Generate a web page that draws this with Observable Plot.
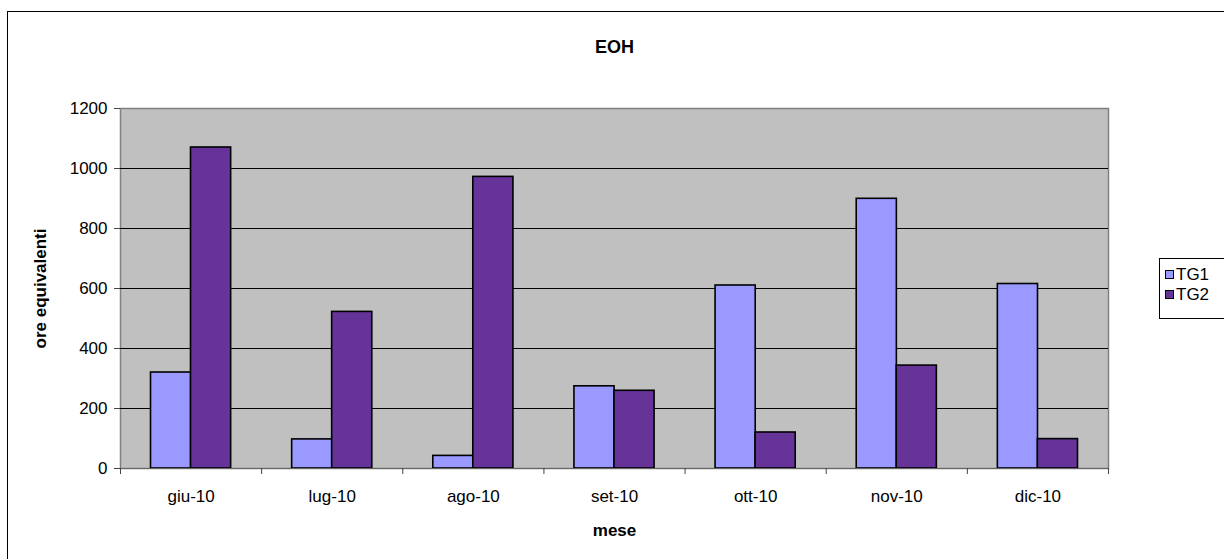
<!DOCTYPE html>
<html>
<head>
<meta charset="utf-8">
<script src="https://cdn.jsdelivr.net/npm/d3@7"></script>
<script src="https://cdn.jsdelivr.net/npm/@observablehq/plot@0.6"></script>
<style>
  body { margin: 0; background: #fff; }
  #wrap { position: relative; width: 1224px; height: 559px; overflow: hidden; font-family: "Liberation Sans", Arial, sans-serif; }
  #border { position: absolute; left: 7px; top: 11px; width: 1300px; height: 700px; border: 1.5px solid #000; pointer-events: none; }
  #legend { position: absolute; left: 1159px; top: 258px; width: 80px; height: 59px; border: 1px solid #000; background: #fff; }
  .item { position: absolute; left: 5px; font-size: 17px; line-height: 19px; color: #000; }
  .sw { display: inline-block; width: 7px; height: 7px; border: 1.5px solid #000; margin-right: 2px; vertical-align: 1px; }
  svg { font-family: "Liberation Sans", Arial, sans-serif; }
</style>
</head>
<body>
<div id="wrap">
  <div id="chart"></div>
  <div id="border"></div>
  <div id="legend"></div>
</div>
<script>
const months = ["giu-10", "lug-10", "ago-10", "set-10", "ott-10", "nov-10", "dic-10"];
const tg1 = [320, 97, 42, 274, 610, 899, 615];
const tg2 = [1070, 522, 972, 259, 120, 343, 98];
const seriesNames = ["TG1", "TG2"];
const seriesColors = ["#9999ff", "#663399"];
const yTicks = [0, 200, 400, 600, 800, 1000, 1200];
const gridTicks = [200, 400, 600, 800, 1000];

const title = "EOH";
const xLabel = "mese";
const yLabel = "ore equivalenti";

const rows1 = months.map((m, i) => ({month: m, value: tg1[i]}));
const rows2 = months.map((m, i) => ({month: m, value: tg2[i]}));

const W = 1224, H = 559;
const mL = 120, mR = 116, mT = 108, mB = 91;
const bw = (W - mL - mR) / months.length;

const chart = Plot.plot({
  width: W,
  height: H,
  marginLeft: mL,
  marginRight: mR,
  marginTop: mT,
  marginBottom: mB,
  style: {fontFamily: "'Liberation Sans', Arial, sans-serif", fontSize: "17px", color: "#000", background: "transparent"},
  x: {type: "band", domain: months, padding: 0, round: false},
  y: {domain: [0, 1200], ticks: yTicks},
  marks: [
    Plot.frame({fill: "#c0c0c0", stroke: "#808080", strokeWidth: 1.5}),
    Plot.gridY(gridTicks, {stroke: "#000", strokeOpacity: 1, strokeWidth: 1}),
    Plot.barY(rows1, {x: "month", y: "value", fill: seriesColors[0], stroke: "#000", strokeWidth: 1.6, insetLeft: 30.5, insetRight: 70.5}),
    Plot.barY(rows2, {x: "month", y: "value", fill: seriesColors[1], stroke: "#000", strokeWidth: 1.6, insetLeft: 70.5, insetRight: 30.5}),
    Plot.ruleY([0], {stroke: "#666", strokeWidth: 1.2}),
    Plot.ruleX(months, {x: d => d, dx: -bw / 2, y1: 0, y2: -20, stroke: "#444", strokeWidth: 1}),
    Plot.ruleX([months[months.length - 1]], {x: d => d, dx: bw / 2, y1: 0, y2: -20, stroke: "#444", strokeWidth: 1}),
    Plot.axisY({ticks: yTicks, tickSize: 6, tickPadding: 7, stroke: "#444", label: null, fontSize: 17, tickFormat: d => String(d)}),
    Plot.axisX({tickSize: 0, tickPadding: 21, label: null, fontSize: 17}),
    Plot.text([title], {text: d => d, frameAnchor: "top", lineAnchor: "middle", textAnchor: "middle", dy: -61, fontWeight: "bold", fontSize: 18}),
    Plot.text([xLabel], {text: d => d, frameAnchor: "bottom", lineAnchor: "middle", textAnchor: "middle", dy: 62, fontWeight: "bold", fontSize: 17}),
    Plot.text([yLabel], {text: d => d, frameAnchor: "left", lineAnchor: "middle", textAnchor: "middle", dx: -80, rotate: -90, fontWeight: "bold", fontSize: 17})
  ]
});
document.getElementById("chart").appendChild(chart);

const legend = document.getElementById("legend");
seriesNames.forEach((name, i) => {
  const item = document.createElement("div");
  item.className = "item";
  item.style.top = (6 + i * 20) + "px";
  const sw = document.createElement("span");
  sw.className = "sw";
  sw.style.background = seriesColors[i];
  item.appendChild(sw);
  item.appendChild(document.createTextNode(name));
  legend.appendChild(item);
});
</script>
</body>
</html>
